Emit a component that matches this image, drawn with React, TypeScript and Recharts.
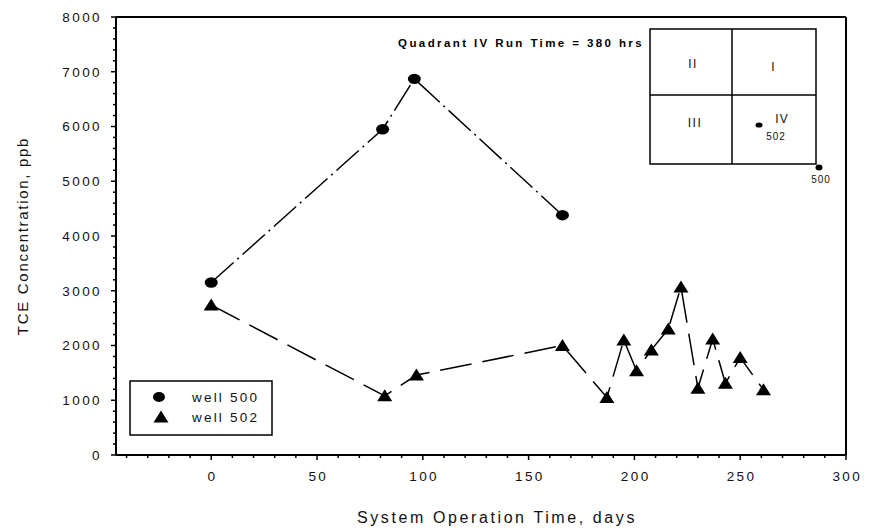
import React from "react"
import {
  ComposedChart,
  Line,
  XAxis,
  YAxis,
  ReferenceLine,
  Customized,
} from "recharts"

const FONT = "'Liberation Sans', Arial, sans-serif"

// well 500 (circles)
const well500Days = [0, 81, 96, 166]
const well500Tce = [3150, 5950, 6870, 4380]

// well 502 (triangles)
const well502Days = [0, 82, 97, 166, 187, 195, 201, 208, 216, 222, 230, 237, 243, 250, 261]
const well502Tce = [2740, 1080, 1460, 2000, 1050, 2100, 1540, 1920, 2300, 3070, 1220, 2120, 1310, 1780, 1190]

const xMajor = [0, 50, 100, 150, 200, 250, 300]
const xTicks = [
  -40, -30, -20, -10, 0, 10, 20, 30, 40, 50, 60, 70, 80, 90, 100, 110, 120, 130, 140, 150,
  160, 170, 180, 190, 200, 210, 220, 230, 240, 250, 260, 270, 280, 290, 300,
]
const yMajor = [0, 1000, 2000, 3000, 4000, 5000, 6000, 7000, 8000]
const yTicks = [
  0, 200, 400, 600, 800, 1000, 1200, 1400, 1600, 1800, 2000, 2200, 2400, 2600, 2800, 3000,
  3200, 3400, 3600, 3800, 4000, 4200, 4400, 4600, 4800, 5000, 5200, 5400, 5600, 5800, 6000,
  6200, 6400, 6600, 6800, 7000, 7200, 7400, 7600, 7800, 8000,
]

const well500Data = well500Days.map((d, i) => ({ day: d, tce: well500Tce[i] }))
const well502Data = well502Days.map((d, i) => ({ day: d, tce: well502Tce[i] }))

function Circle(props: any) {
  const { cx, cy } = props
  if (cx == null || cy == null) return <g />
  return <ellipse cx={cx} cy={cy} rx={6.5} ry={5.2} fill="#000" />
}

function Tri(props: any) {
  const { cx, cy } = props
  if (cx == null || cy == null) return <g />
  return (
    <polygon
      points={`${cx},${cy - 6.5} ${cx - 7.5},${cy + 5.5} ${cx + 7.5},${cy + 5.5}`}
      fill="#000"
    />
  )
}

function XTick(props: any) {
  const { x, y, payload } = props
  const v = payload.value
  const major = xMajor.includes(v)
  return (
    <g>
      <line x1={x} x2={x} y1={y} y2={y + (major ? 5 : 3)} stroke="#000" strokeWidth={1.5} />
      {major && (
        <text
          x={x + 1.3}
          y={y + 26}
          textAnchor="middle"
          fontFamily={FONT}
          fontSize={13.5}
          letterSpacing={2.4}
          fill="#111"
        >
          {v}
        </text>
      )}
    </g>
  )
}

function YTick(props: any) {
  const { x, y, payload } = props
  const v = payload.value
  const major = yMajor.includes(v)
  return (
    <g>
      <line x1={x} x2={x - (major ? 5 : 3)} y1={y} y2={y} stroke="#000" strokeWidth={1.5} />
      {major && (
        <text
          x={x - 14}
          y={y + 4.8}
          textAnchor="end"
          fontFamily={FONT}
          fontSize={13.5}
          letterSpacing={2.4}
          fill="#111"
        >
          {v}
        </text>
      )}
    </g>
  )
}

function Decorations() {
  return (
    <g fontFamily={FONT}>
      {/* axis titles */}
      <text
        x={22}
        y={236}
        transform="rotate(-90 22 236)"
        textAnchor="middle"
        dominantBaseline="central"
        fontSize={15}
        letterSpacing={1.7}
        fill="#111"
      >
        TCE Concentration, ppb
      </text>
      <text x={497} y={523} textAnchor="middle" fontSize={16} letterSpacing={2.6} fill="#111">
        System Operation Time, days
      </text>

      {/* quadrant inset */}
      <text
        x={644}
        y={47}
        textAnchor="end"
        fontSize={11.5}
        fontWeight="bold"
        letterSpacing={2.4}
        fill="#000"
      >
        Quadrant IV Run Time = 380 hrs
      </text>
      <rect x={650} y={29} width={166} height={135} fill="none" stroke="#000" strokeWidth={1.5} />
      <line x1={732} x2={732} y1={29} y2={164} stroke="#000" strokeWidth={1.5} />
      <line x1={650} x2={816} y1={95} y2={95} stroke="#000" strokeWidth={1.5} />
      <text x={693} y={68} textAnchor="middle" fontSize={12} letterSpacing={1.5} fill="#111">II</text>
      <text x={773} y={71} textAnchor="middle" fontSize={12} fill="#111">I</text>
      <text x={695} y={127} textAnchor="middle" fontSize={12} letterSpacing={1.5} fill="#111">III</text>
      <text x={782} y={123} textAnchor="middle" fontSize={12} letterSpacing={1} fill="#111">IV</text>
      <text x={776} y={140} textAnchor="middle" fontSize={10} letterSpacing={1} fill="#111">502</text>
      <ellipse cx={759} cy={125} rx={3.5} ry={2.6} fill="#000" />
      <ellipse cx={819} cy={167.5} rx={3.5} ry={3} fill="#000" />
      <text x={821} y={183} textAnchor="middle" fontSize={10} letterSpacing={1} fill="#111">500</text>

      {/* legend */}
      <rect x={130} y={381} width={142} height={54} fill="#fff" stroke="#000" strokeWidth={1.5} />
      <ellipse cx={159} cy={397} rx={6} ry={5} fill="#000" />
      <polygon points="161,410.5 153.5,422.5 168.5,422.5" fill="#000" />
      <text x={192} y={402} fontSize={13.5} letterSpacing={2.2} fill="#111">well 500</text>
      <text x={192} y={422} fontSize={13.5} letterSpacing={2.2} fill="#111">well 502</text>
    </g>
  )
}

export default function App() {
  return (
    <div style={{ position: "absolute", left: 0, top: 0, background: "#fff" }}>
      <ComposedChart
        width={870}
        height={531}
        margin={{ top: 17, right: 24, left: 0, bottom: 0 }}
      >
        <XAxis
          type="number"
          dataKey="day"
          domain={[-45, 300]}
          allowDataOverflow
          ticks={xTicks}
          interval={0}
          height={76}
          tickSize={0}
          tickMargin={0}
          tickLine={false}
          axisLine={{ stroke: "#000", strokeWidth: 2 }}
          tick={XTick}
        />
        <YAxis
          type="number"
          domain={[0, 8000]}
          allowDataOverflow
          ticks={yTicks}
          interval={0}
          width={116}
          tickSize={0}
          tickMargin={0}
          tickLine={false}
          axisLine={{ stroke: "#000", strokeWidth: 2 }}
          tick={YTick}
        />
        <ReferenceLine y={8000} stroke="#000" strokeWidth={2} />
        <ReferenceLine x={300} stroke="#000" strokeWidth={2} />
        <Line
          data={well500Data}
          dataKey="tce"
          stroke="#000"
          strokeWidth={1.5}
          strokeDasharray="30 5 2 5"
          dot={<Circle />}
          activeDot={false}
          isAnimationActive={false}
        />
        <Line
          data={well502Data}
          dataKey="tce"
          stroke="#000"
          strokeWidth={1.5}
          strokeDasharray="32 11"
          dot={<Tri />}
          activeDot={false}
          isAnimationActive={false}
        />
        <Customized component={Decorations} />
      </ComposedChart>
    </div>
  )
}
